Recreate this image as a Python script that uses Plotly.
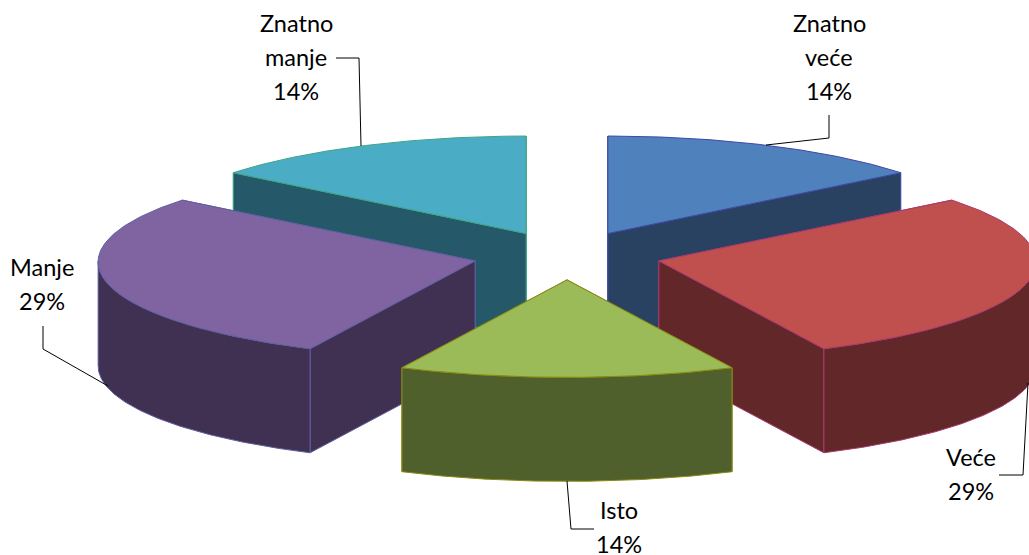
import numpy as np
import plotly.graph_objects as go

categories = ["Znatno veće", "Veće", "Isto", "Manje", "Znatno manje"]
values = [1, 2, 1, 2, 1]

top_colors = ["#4F81BD", "#C0504D", "#9BBB59", "#8064A2", "#4BACC6"]
wall_colors = ["#2A4261", "#622728", "#4F602D", "#403152", "#255868"]
edge_colors = ["#3F48A8", "#A83A70", "#8A8A10", "#5F5FA0", "#3EA585"]

label_lines = [["Znatno", "veće"], ["Veće"], ["Isto"], ["Manje"], ["Znatno", "manje"]]
label_x = [829, 971, 619, 42, 296]
label_y = [23, 457, 510, 267, 23]
line_step = 34
leaders = [
    [(829, 115), (829, 138), (766, 145)],
    [(999, 475), (1023, 475), (1028, 383)],
    [(594, 529), (571, 529), (567, 481)],
    [(43, 326), (43, 349), (108, 386)],
    [(336, 58), (359, 58), (361, 146)],
]

W, H = 1029, 555
CX, CY = 567.0, 255.5
A, B = 377.0, 97.5      # semi-axes of the projected pie
PERSPECTIVE = 0.01      # front of the pie is drawn slightly wider than the back
DEPTH = 104.0
EXPLODE = 0.25

total = sum(values)
spans = np.array(values) / total * 360.0
starts = np.concatenate([[0.0], np.cumsum(spans)[:-1]])


def pt(cx, cy, deg):
    r = np.radians(deg)
    return cx + A * (1 - PERSPECTIVE * np.cos(r)) * np.sin(r), cy - B * np.cos(r)


fig = go.Figure()


def poly(xs, ys, fill, edge):
    fig.add_trace(go.Scatter(
        x=list(xs), y=list(ys), mode="lines", fill="toself", fillcolor=fill,
        line=dict(color=edge, width=1), hoverinfo="skip", showlegend=False,
    ))


draw_order = [4, 0, 3, 1, 2]
for i in draw_order:
    a0, a1 = starts[i], starts[i] + spans[i]
    mid = np.radians((a0 + a1) / 2)
    tx = CX + EXPLODE * A * np.sin(mid)
    ty = CY - EXPLODE * B * np.cos(mid)
    # radial walls, the one further back first
    for a in sorted((a0, a1), key=lambda d: pt(tx, ty, d)[1]):
        ex, ey = pt(tx, ty, a)
        poly([tx, ex, ex, tx, tx], [ty, ey, ey + DEPTH, ty + DEPTH, ty],
             wall_colors[i], edge_colors[i])
    # outer rim: only the part facing the viewer
    r0, r1 = max(a0, 90.0), min(a1, 270.0)
    if r1 > r0:
        t = np.linspace(r0, r1, 120)
        rx, ry = pt(tx, ty, t)
        poly(np.concatenate([rx, rx[::-1], rx[:1]]),
             np.concatenate([ry, ry[::-1] + DEPTH, ry[:1]]),
             wall_colors[i], edge_colors[i])
    # top face
    t = np.linspace(a0, a1, 120)
    ax, ay = pt(tx, ty, t)
    poly(np.concatenate([[tx], ax, [tx]]), np.concatenate([[ty], ay, [ty]]),
         top_colors[i], edge_colors[i])

for pts in leaders:
    fig.add_trace(go.Scatter(
        x=[p[0] for p in pts], y=[p[1] for p in pts], mode="lines",
        line=dict(color="#000000", width=1), hoverinfo="skip", showlegend=False,
    ))

for i, v in enumerate(values):
    lines = label_lines[i] + [f"{round(v / total * 100)}%"]
    for k, s in enumerate(lines):
        fig.add_annotation(x=label_x[i], y=label_y[i] + k * line_step, text=s,
                           showarrow=False, xanchor="center", yanchor="middle",
                           font=dict(family="Lato, Carlito, Calibri, sans-serif",
                                     size=23.5, color="#000000"))

fig.update_xaxes(range=[0, W], visible=False, fixedrange=True)
fig.update_yaxes(range=[H, 0], visible=False, fixedrange=True)
fig.update_layout(width=W, height=H, margin=dict(l=0, r=0, t=0, b=0),
                  paper_bgcolor="#FFFFFF", plot_bgcolor="#FFFFFF", showlegend=False)

fig.write_html("out.html", config={"displayModeBar": False},
               post_script="document.body.style.margin='0';document.body.style.overflow='hidden';")
